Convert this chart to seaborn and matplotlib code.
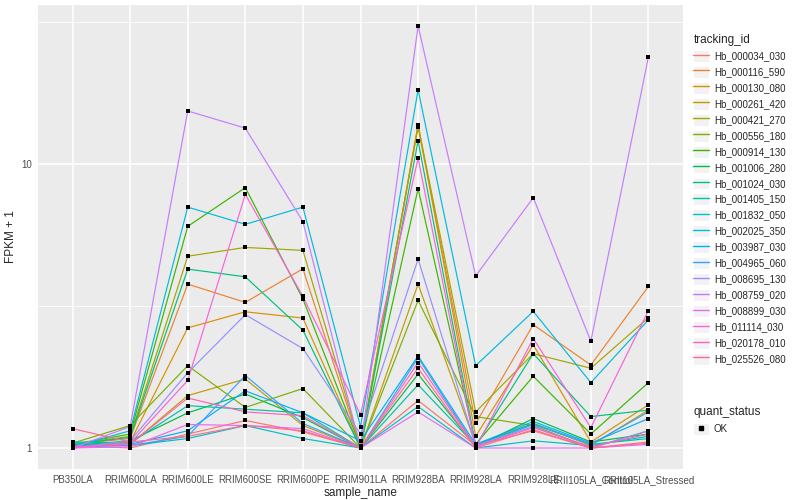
import matplotlib.pyplot as plt
import numpy as np
import pandas as pd
import seaborn as sns
from matplotlib.legend_handler import HandlerTuple
from matplotlib.lines import Line2D
from matplotlib.patches import Rectangle

plt.switch_backend("Agg")

samples = ["PB350LA", "RRIM600LA", "RRIM600LE", "RRIM600SE", "RRIM600PE",
           "RRIM901LA", "RRIM928BA", "RRIM928LA", "RRIM928LE",
           "RRII105LA_Control", "RRII105LA_Stressed"]

tracking_ids = ["Hb_000034_030", "Hb_000116_590", "Hb_000130_080",
                "Hb_000261_420", "Hb_000421_270", "Hb_000556_180",
                "Hb_000914_130", "Hb_001006_280", "Hb_001024_030",
                "Hb_001405_150", "Hb_001832_050", "Hb_002025_350",
                "Hb_003987_030", "Hb_004965_060", "Hb_008695_130",
                "Hb_008759_020", "Hb_008899_030", "Hb_011114_030",
                "Hb_020178_010", "Hb_025526_080"]

# FPKM + 1, one list per gene, in sample order
hb_000034_030 = [1.02, 1.00, 1.12, 1.25, 1.14, 1.00, 1.47, 1.02, 1.15, 1.00, 1.04]
hb_000116_590 = [1.03, 1.08, 3.78, 3.26, 4.28, 1.01, 13.5, 1.22, 2.72, 1.96, 3.71]
hb_000130_080 = [1.01, 1.05, 2.65, 3.02, 2.87, 1.00, 13.8, 1.10, 2.31, 1.05, 1.42]
hb_000261_420 = [1.02, 1.03, 1.53, 1.75, 1.20, 1.00, 3.78, 1.03, 1.22, 1.02, 1.36]
hb_000421_270 = [1.03, 1.10, 4.74, 5.09, 4.97, 1.02, 13.7, 1.34, 2.15, 1.91, 2.88]
hb_000556_180 = [1.04, 1.20, 1.95, 1.39, 1.62, 1.00, 3.31, 1.29, 1.20, 1.00, 1.15]
hb_000914_130 = [1.03, 1.12, 6.04, 8.27, 3.35, 1.01, 8.20, 1.03, 1.79, 1.12, 1.70]
hb_001006_280 = [1.02, 1.06, 1.33, 1.55, 1.28, 1.00, 1.82, 1.01, 1.27, 1.05, 1.12]
hb_001024_030 = [1.03, 1.09, 4.27, 4.01, 2.60, 1.00, 12.1, 1.02, 2.15, 1.29, 1.36]
hb_001405_150 = [1.05, 1.04, 1.41, 1.37, 1.33, 1.00, 1.67, 1.02, 1.22, 1.03, 1.08]
hb_001832_050 = [1.04, 1.02, 1.08, 1.20, 1.08, 1.00, 1.40, 1.00, 1.06, 1.02, 1.10]
hb_002025_350 = [1.01, 1.15, 7.06, 6.14, 7.06, 1.19, 18.3, 1.95, 3.03, 1.70, 2.83]
hb_003987_030 = [1.02, 1.03, 1.15, 1.59, 1.33, 1.06, 2.11, 1.03, 1.24, 1.04, 1.27]
hb_004965_060 = [1.01, 1.02, 1.10, 1.80, 1.22, 1.00, 2.08, 1.01, 1.21, 1.03, 1.34]
hb_008695_130 = [1.00, 1.06, 1.84, 2.95, 2.24, 1.12, 4.63, 1.02, 1.19, 1.00, 1.15]
hb_008759_020 = [1.00, 1.19, 15.4, 13.4, 6.28, 1.00, 30.7, 4.04, 7.62, 2.38, 23.9]
hb_008899_030 = [1.00, 1.01, 1.21, 1.20, 1.17, 1.00, 1.34, 1.00, 1.00, 1.00, 1.03]
hb_011114_030 = [1.00, 1.04, 1.73, 7.83, 3.42, 1.31, 10.5, 1.00, 2.43, 1.18, 3.05]
hb_020178_010 = [1.01, 1.03, 1.50, 1.34, 1.30, 1.00, 2.00, 1.01, 1.18, 1.01, 1.12]
hb_025526_080 = [1.17, 1.05, 1.10, 1.20, 1.15, 1.00, 1.91, 1.00, 1.16, 1.00, 1.05]

values = [hb_000034_030, hb_000116_590, hb_000130_080, hb_000261_420,
          hb_000421_270, hb_000556_180, hb_000914_130, hb_001006_280,
          hb_001024_030, hb_001405_150, hb_001832_050, hb_002025_350,
          hb_003987_030, hb_004965_060, hb_008695_130, hb_008759_020,
          hb_008899_030, hb_011114_030, hb_020178_010, hb_025526_080]

# ggplot2 default hue palette for 20 levels
colors = ["#F8766D", "#EA8331", "#D89000", "#C09B00", "#A3A500", "#7CAE00",
          "#39B600", "#00BB4E", "#00BF7D", "#00C1A3", "#00BFC4", "#00BAE0",
          "#00B0F6", "#35A2FF", "#9590FF", "#C77CFF", "#E76BF3", "#FA62DB",
          "#FF62BC", "#FF6C91"]

rows = []
for tid, vals in zip(tracking_ids, values):
    for i, v in enumerate(vals):
        rows.append({"tracking_id": tid, "x": i, "fpkm": v})
df = pd.DataFrame(rows)

sns.set_theme(style="darkgrid", rc={
    "axes.facecolor": "#EBEBEB",
    "grid.color": "white",
    "axes.edgecolor": "#EBEBEB",
})
plt.rcParams["font.family"] = ["Liberation Sans", "DejaVu Sans"]

fig = plt.figure(figsize=(8, 5), dpi=100)
ax = fig.add_axes([38 / 800, 31 / 500, 645 / 800, 464 / 500])

sns.lineplot(data=df, x="x", y="fpkm", hue="tracking_id",
             hue_order=tracking_ids, palette=colors, estimator=None,
             sort=False, lw=0.85, legend=False, ax=ax)
sns.scatterplot(data=df, x="x", y="fpkm", color="black", marker="s",
                s=7, linewidth=0, legend=False, ax=ax, zorder=5)

ax.set_yscale("log")
ax.set_ylim(10 ** -0.074, 10 ** 1.561)
ax.set_xlim(-0.6, len(samples) - 0.4)
ax.set_yticks([1, 10])
ax.set_yticklabels(["1", "10"])
ax.set_yticks([10 ** 0.5, 10 ** 1.5], minor=True)
ax.yaxis.set_minor_formatter(plt.NullFormatter())
ax.set_xticks(range(len(samples)))
ax.set_xticklabels(samples)

ax.grid(which="major", color="white", lw=1.1)
ax.grid(which="minor", axis="y", color="white", lw=0.55)
ax.tick_params(which="major", length=3, width=0.6, color="#333333",
               labelsize=7, labelcolor="#4D4D4D", pad=1.5)
ax.tick_params(which="minor", length=0)
for s in ax.spines.values():
    s.set_visible(False)

ax.set_xlabel("sample_name", fontsize=8.5, labelpad=1)
ax.set_ylabel("FPKM + 1", fontsize=8.5, labelpad=3)

# legends styled like ggplot keys
key_bg = dict(facecolor="#F2F2F2", edgecolor="white", lw=0.8)
handles = [(Rectangle((0, 0), 1, 1, **key_bg), Line2D([], [], color=c, lw=1))
           for c in colors]
leg1 = fig.legend(handles, tracking_ids, title="tracking_id",
                  loc="upper left", bbox_to_anchor=(0.862, 0.94),
                  frameon=False, fontsize=7, title_fontsize=8.5,
                  handlelength=1.6, handleheight=1.5, handletextpad=0.5,
                  labelspacing=0.42, borderaxespad=0,
                  handler_map={tuple: HandlerTuple(ndivide=1, pad=0)})
leg1._legend_box.align = "left"

ok_handle = (Rectangle((0, 0), 1, 1, **key_bg),
             Line2D([], [], color="black", marker="s", ls="", ms=2.5))
leg2 = fig.legend([ok_handle], ["OK"], title="quant_status",
                  loc="upper left", bbox_to_anchor=(0.862, 0.195),
                  frameon=False, fontsize=7, title_fontsize=8.5,
                  handlelength=1.6, handleheight=1.5, handletextpad=0.5,
                  borderaxespad=0,
                  handler_map={tuple: HandlerTuple(ndivide=1, pad=0)})
leg2._legend_box.align = "left"

fig.savefig("out.png", dpi=100)
